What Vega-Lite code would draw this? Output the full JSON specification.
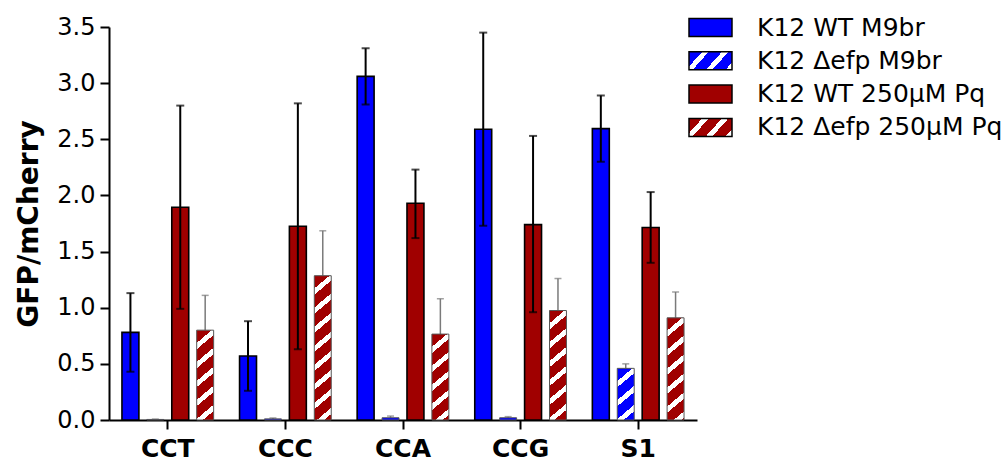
{
  "$schema": "https://vega.github.io/schema/vega-lite/v6.json",
  "width": 588,
  "height": 393,
  "autosize": {"type": "none"},
  "padding": {"left": 109, "top": 27, "right": 308, "bottom": 43},
  "config": {"view": {"stroke": null}, "font": "DejaVu Sans"},
  "data": {"values": [
    {"group": "CCT", "series": "K12 WT M9br", "mean": 0.78, "lo": 0.43, "hi": 1.13},
    {"group": "CCT", "series": "K12 Δefp M9br", "mean": 0.005, "lo": 0.0, "hi": 0.008},
    {"group": "CCT", "series": "K12 WT 250µM Pq", "mean": 1.895, "lo": 0.99, "hi": 2.80},
    {"group": "CCT", "series": "K12 Δefp 250µM Pq", "mean": 0.80, "lo": 0.49, "hi": 1.11},
    {"group": "CCC", "series": "K12 WT M9br", "mean": 0.57, "lo": 0.26, "hi": 0.88},
    {"group": "CCC", "series": "K12 Δefp M9br", "mean": 0.01, "lo": 0.0, "hi": 0.018},
    {"group": "CCC", "series": "K12 WT 250µM Pq", "mean": 1.725, "lo": 0.63, "hi": 2.82},
    {"group": "CCC", "series": "K12 Δefp 250µM Pq", "mean": 1.285, "lo": 0.89, "hi": 1.685},
    {"group": "CCA", "series": "K12 WT M9br", "mean": 3.06, "lo": 2.81, "hi": 3.31},
    {"group": "CCA", "series": "K12 Δefp M9br", "mean": 0.02, "lo": 0.005, "hi": 0.035},
    {"group": "CCA", "series": "K12 WT 250µM Pq", "mean": 1.93, "lo": 1.62, "hi": 2.23},
    {"group": "CCA", "series": "K12 Δefp 250µM Pq", "mean": 0.765, "lo": 0.45, "hi": 1.08},
    {"group": "CCG", "series": "K12 WT M9br", "mean": 2.59, "lo": 1.73, "hi": 3.45},
    {"group": "CCG", "series": "K12 Δefp M9br", "mean": 0.02, "lo": 0.01, "hi": 0.03},
    {"group": "CCG", "series": "K12 WT 250µM Pq", "mean": 1.74, "lo": 0.96, "hi": 2.53},
    {"group": "CCG", "series": "K12 Δefp 250µM Pq", "mean": 0.975, "lo": 0.69, "hi": 1.26},
    {"group": "S1", "series": "K12 WT M9br", "mean": 2.595, "lo": 2.30, "hi": 2.89},
    {"group": "S1", "series": "K12 Δefp M9br", "mean": 0.46, "lo": 0.42, "hi": 0.50},
    {"group": "S1", "series": "K12 WT 250µM Pq", "mean": 1.715, "lo": 1.40, "hi": 2.03},
    {"group": "S1", "series": "K12 Δefp 250µM Pq", "mean": 0.91, "lo": 0.68, "hi": 1.14}
  ]},
  "encoding": {
    "x": {"field": "group", "type": "nominal", "sort": ["CCT", "CCC", "CCA", "CCG", "S1"],
      "scale": {"paddingInner": 0, "paddingOuter": 0},
      "axis": {"title": null, "labelAngle": 0, "domainColor": "black", "domainWidth": 2, "tickColor": "black", "tickWidth": 2, "tickSize": 9, "labelFont": "DejaVu Sans", "labelFontWeight": "bold", "labelFontSize": 25, "labelColor": "black", "labelPadding": 7}},
    "xOffset": {"field": "series", "type": "nominal", "sort": ["K12 WT M9br", "K12 Δefp M9br", "K12 WT 250µM Pq", "K12 Δefp 250µM Pq"],
      "scale": {"paddingInner": 0.32, "paddingOuter": 0.52}}
  },
  "layer": [
    {
      "transform": [{"filter": "indexof(datum.series, 'Δ') >= 0"}],
      "mark": {"type": "rule", "color": "#7a7a7a", "strokeWidth": 1.5},
      "encoding": {
        "y": {"field": "mean", "type": "quantitative", "scale": {"domain": [0, 3.5], "nice": false}},
        "y2": {"field": "hi"}
      }
    },
    {
      "transform": [{"filter": "indexof(datum.series, 'Δ') >= 0"}],
      "mark": {"type": "tick", "color": "#7a7a7a", "size": 7, "thickness": 1.5},
      "encoding": {"y": {"field": "hi", "type": "quantitative"}}
    },
    {
      "mark": {"type": "bar"},
      "encoding": {
        "y": {"field": "mean", "type": "quantitative", "scale": {"domain": [0, 3.5], "nice": false},
          "axis": {"title": "GFP/mCherry", "values": [0, 0.5, 1, 1.5, 2, 2.5, 3, 3.5], "format": ".1f", "grid": false, "domainColor": "black", "domainWidth": 2, "tickColor": "black", "tickWidth": 2, "tickSize": 9, "labelFont": "DejaVu Sans", "labelFontSize": 24, "labelColor": "black", "labelPadding": 5, "titleFont": "DejaVu Sans", "titleFontWeight": "bold", "titleFontSize": 28, "titleColor": "black", "titlePadding": 13}},
        "stroke": {"condition": {"test": "indexof(datum.series, 'Δ') >= 0", "value": "#555555"}, "value": "black"},
        "strokeWidth": {"condition": {"test": "indexof(datum.series, 'Δ') >= 0", "value": 1}, "value": 1.6},
        "fill": {
          "field": "series", "type": "nominal",
          "scale": {"domain": ["K12 WT M9br", "K12 Δefp M9br", "K12 WT 250µM Pq", "K12 Δefp 250µM Pq"],
            "range": [
              "#0000ff",
              {"expr": "{gradient: 'linear', x1: 0, y1: 0, x2: 1.2056, y2: 0.4544, stops: [{offset: 0, color: '#0000ff'}, {offset: 0.2233, color: '#0000ff'}, {offset: 0.2233, color: '#ffffff'}, {offset: 0.3333, color: '#ffffff'}, {offset: 0.3333, color: '#0000ff'}, {offset: 0.5567, color: '#0000ff'}, {offset: 0.5567, color: '#ffffff'}, {offset: 0.6667, color: '#ffffff'}, {offset: 0.6667, color: '#0000ff'}, {offset: 0.89, color: '#0000ff'}, {offset: 0.89, color: '#ffffff'}, {offset: 1, color: '#ffffff'}]}"},
              "#a00000",
              {"expr": "{gradient: 'linear', x1: 0, y1: 0, x2: 1.2056, y2: 0.4544, stops: [{offset: 0, color: '#a00000'}, {offset: 0.2233, color: '#a00000'}, {offset: 0.2233, color: '#ffffff'}, {offset: 0.3333, color: '#ffffff'}, {offset: 0.3333, color: '#a00000'}, {offset: 0.5567, color: '#a00000'}, {offset: 0.5567, color: '#ffffff'}, {offset: 0.6667, color: '#ffffff'}, {offset: 0.6667, color: '#a00000'}, {offset: 0.89, color: '#a00000'}, {offset: 0.89, color: '#ffffff'}, {offset: 1, color: '#ffffff'}]}"}
            ]},
          "legend": {
            "title": null, "orient": "none", "legendX": 579, "legendY": -15.5, "padding": 0,
            "symbolType": "M-1,-0.419H1V0.419H-1Z", "symbolSize": 1849, "clipHeight": 32, "rowPadding": 1.3,
            "labelFont": "DejaVu Sans", "labelFontSize": 25, "labelColor": "black", "labelOffset": 24, "labelLimit": 400,
            "symbolStrokeColor": "black", "symbolStrokeWidth": 1.5
          },
          "condition": [
            {"test": "datum.group === 'CCT' && datum.series === 'K12 Δefp 250µM Pq'", "value": {"gradient": "linear", "x1": 0, "y1": 0, "x2": 0.1795, "y2": 1.13, "stops": [
              {"offset": 0, "color": "#a00000"}, {"offset": 0.1223, "color": "#a00000"}, {"offset": 0.1223, "color": "#ffffff"}, {"offset": 0.1826, "color": "#ffffff"},
              {"offset": 0.1826, "color": "#a00000"}, {"offset": 0.3049, "color": "#a00000"}, {"offset": 0.3049, "color": "#ffffff"}, {"offset": 0.3652, "color": "#ffffff"},
              {"offset": 0.3652, "color": "#a00000"}, {"offset": 0.4875, "color": "#a00000"}, {"offset": 0.4875, "color": "#ffffff"}, {"offset": 0.5477, "color": "#ffffff"},
              {"offset": 0.5477, "color": "#a00000"}, {"offset": 0.67, "color": "#a00000"}, {"offset": 0.67, "color": "#ffffff"}, {"offset": 0.7303, "color": "#ffffff"},
              {"offset": 0.7303, "color": "#a00000"}, {"offset": 0.8526, "color": "#a00000"}, {"offset": 0.8526, "color": "#ffffff"}, {"offset": 0.9129, "color": "#ffffff"},
              {"offset": 0.9129, "color": "#a00000"}, {"offset": 1, "color": "#a00000"}]}},
            {"test": "datum.group === 'CCC' && datum.series === 'K12 Δefp 250µM Pq'", "value": {"gradient": "linear", "x1": 0, "y1": 0, "x2": 0.108, "y2": 1.0886, "stops": [
              {"offset": 0, "color": "#a00000"}, {"offset": 0.0806, "color": "#a00000"}, {"offset": 0.0806, "color": "#ffffff"}, {"offset": 0.1203, "color": "#ffffff"},
              {"offset": 0.1203, "color": "#a00000"}, {"offset": 0.2009, "color": "#a00000"}, {"offset": 0.2009, "color": "#ffffff"}, {"offset": 0.2406, "color": "#ffffff"},
              {"offset": 0.2406, "color": "#a00000"}, {"offset": 0.3212, "color": "#a00000"}, {"offset": 0.3212, "color": "#ffffff"}, {"offset": 0.3608, "color": "#ffffff"},
              {"offset": 0.3608, "color": "#a00000"}, {"offset": 0.4414, "color": "#a00000"}, {"offset": 0.4414, "color": "#ffffff"}, {"offset": 0.4811, "color": "#ffffff"},
              {"offset": 0.4811, "color": "#a00000"}, {"offset": 0.5617, "color": "#a00000"}, {"offset": 0.5617, "color": "#ffffff"}, {"offset": 0.6014, "color": "#ffffff"},
              {"offset": 0.6014, "color": "#a00000"}, {"offset": 0.682, "color": "#a00000"}, {"offset": 0.682, "color": "#ffffff"}, {"offset": 0.7217, "color": "#ffffff"},
              {"offset": 0.7217, "color": "#a00000"}, {"offset": 0.8023, "color": "#a00000"}, {"offset": 0.8023, "color": "#ffffff"}, {"offset": 0.842, "color": "#ffffff"},
              {"offset": 0.842, "color": "#a00000"}, {"offset": 0.9226, "color": "#a00000"}, {"offset": 0.9226, "color": "#ffffff"}, {"offset": 0.9622, "color": "#ffffff"},
              {"offset": 0.9622, "color": "#a00000"}, {"offset": 1, "color": "#a00000"}]}},
            {"test": "datum.group === 'CCA' && datum.series === 'K12 Δefp 250µM Pq'", "value": {"gradient": "linear", "x1": 0, "y1": 0, "x2": 0.1885, "y2": 1.1349, "stops": [
              {"offset": 0, "color": "#a00000"}, {"offset": 0.1271, "color": "#a00000"}, {"offset": 0.1271, "color": "#ffffff"}, {"offset": 0.1897, "color": "#ffffff"},
              {"offset": 0.1897, "color": "#a00000"}, {"offset": 0.3168, "color": "#a00000"}, {"offset": 0.3168, "color": "#ffffff"}, {"offset": 0.3794, "color": "#ffffff"},
              {"offset": 0.3794, "color": "#a00000"}, {"offset": 0.5065, "color": "#a00000"}, {"offset": 0.5065, "color": "#ffffff"}, {"offset": 0.569, "color": "#ffffff"},
              {"offset": 0.569, "color": "#a00000"}, {"offset": 0.6961, "color": "#a00000"}, {"offset": 0.6961, "color": "#ffffff"}, {"offset": 0.7587, "color": "#ffffff"},
              {"offset": 0.7587, "color": "#a00000"}, {"offset": 0.8858, "color": "#a00000"}, {"offset": 0.8858, "color": "#ffffff"}, {"offset": 0.9484, "color": "#ffffff"},
              {"offset": 0.9484, "color": "#a00000"}, {"offset": 1, "color": "#a00000"}]}},
            {"test": "datum.group === 'CCG' && datum.series === 'K12 Δefp 250µM Pq'", "value": {"gradient": "linear", "x1": 0, "y1": 0, "x2": 0.144, "y2": 1.1109, "stops": [
              {"offset": 0, "color": "#a00000"}, {"offset": 0.1025, "color": "#a00000"}, {"offset": 0.1025, "color": "#ffffff"}, {"offset": 0.1529, "color": "#ffffff"},
              {"offset": 0.1529, "color": "#a00000"}, {"offset": 0.2554, "color": "#a00000"}, {"offset": 0.2554, "color": "#ffffff"}, {"offset": 0.3058, "color": "#ffffff"},
              {"offset": 0.3058, "color": "#a00000"}, {"offset": 0.4083, "color": "#a00000"}, {"offset": 0.4083, "color": "#ffffff"}, {"offset": 0.4587, "color": "#ffffff"},
              {"offset": 0.4587, "color": "#a00000"}, {"offset": 0.5612, "color": "#a00000"}, {"offset": 0.5612, "color": "#ffffff"}, {"offset": 0.6116, "color": "#ffffff"},
              {"offset": 0.6116, "color": "#a00000"}, {"offset": 0.7141, "color": "#a00000"}, {"offset": 0.7141, "color": "#ffffff"}, {"offset": 0.7645, "color": "#ffffff"},
              {"offset": 0.7645, "color": "#a00000"}, {"offset": 0.867, "color": "#a00000"}, {"offset": 0.867, "color": "#ffffff"}, {"offset": 0.9174, "color": "#ffffff"},
              {"offset": 0.9174, "color": "#a00000"}, {"offset": 1, "color": "#a00000"}]}},
            {"test": "datum.group === 'S1' && datum.series === 'K12 Δefp 250µM Pq'", "value": {"gradient": "linear", "x1": 0, "y1": 0, "x2": 0.156, "y2": 1.1178, "stops": [
              {"offset": 0, "color": "#a00000"}, {"offset": 0.1093, "color": "#a00000"}, {"offset": 0.1093, "color": "#ffffff"}, {"offset": 0.1632, "color": "#ffffff"},
              {"offset": 0.1632, "color": "#a00000"}, {"offset": 0.2725, "color": "#a00000"}, {"offset": 0.2725, "color": "#ffffff"}, {"offset": 0.3263, "color": "#ffffff"},
              {"offset": 0.3263, "color": "#a00000"}, {"offset": 0.4356, "color": "#a00000"}, {"offset": 0.4356, "color": "#ffffff"}, {"offset": 0.4895, "color": "#ffffff"},
              {"offset": 0.4895, "color": "#a00000"}, {"offset": 0.5988, "color": "#a00000"}, {"offset": 0.5988, "color": "#ffffff"}, {"offset": 0.6526, "color": "#ffffff"},
              {"offset": 0.6526, "color": "#a00000"}, {"offset": 0.7619, "color": "#a00000"}, {"offset": 0.7619, "color": "#ffffff"}, {"offset": 0.8158, "color": "#ffffff"},
              {"offset": 0.8158, "color": "#a00000"}, {"offset": 0.9251, "color": "#a00000"}, {"offset": 0.9251, "color": "#ffffff"}, {"offset": 0.979, "color": "#ffffff"},
              {"offset": 0.979, "color": "#a00000"}, {"offset": 1, "color": "#a00000"}]}},
            {"test": "datum.group === 'S1' && datum.series === 'K12 Δefp M9br'", "value": {"gradient": "linear", "x1": 0, "y1": 0, "x2": 0.3275, "y2": 1.1859, "stops": [
              {"offset": 0, "color": "#0000ff"}, {"offset": 0.1931, "color": "#0000ff"}, {"offset": 0.1931, "color": "#ffffff"}, {"offset": 0.2883, "color": "#ffffff"},
              {"offset": 0.2883, "color": "#0000ff"}, {"offset": 0.4814, "color": "#0000ff"}, {"offset": 0.4814, "color": "#ffffff"}, {"offset": 0.5765, "color": "#ffffff"},
              {"offset": 0.5765, "color": "#0000ff"}, {"offset": 0.7697, "color": "#0000ff"}, {"offset": 0.7697, "color": "#ffffff"}, {"offset": 0.8648, "color": "#ffffff"},
              {"offset": 0.8648, "color": "#0000ff"}, {"offset": 1, "color": "#0000ff"}]}},
            {"test": "datum.series === 'K12 Δefp M9br'", "value": "#0000ff"}
          ]
        }
      }
    },
    {
      "transform": [{"filter": "indexof(datum.series, 'Δ') < 0"}],
      "mark": {"type": "rule", "color": "black", "strokeWidth": 2},
      "encoding": {
        "y": {"field": "lo", "type": "quantitative"},
        "y2": {"field": "hi"}
      }
    },
    {
      "transform": [{"filter": "indexof(datum.series, 'Δ') < 0"}],
      "mark": {"type": "tick", "color": "black", "size": 8, "thickness": 2},
      "encoding": {"y": {"field": "hi", "type": "quantitative"}}
    },
    {
      "transform": [{"filter": "indexof(datum.series, 'Δ') < 0"}],
      "mark": {"type": "tick", "color": "black", "size": 8, "thickness": 2},
      "encoding": {"y": {"field": "lo", "type": "quantitative"}}
    }
  ]
}
